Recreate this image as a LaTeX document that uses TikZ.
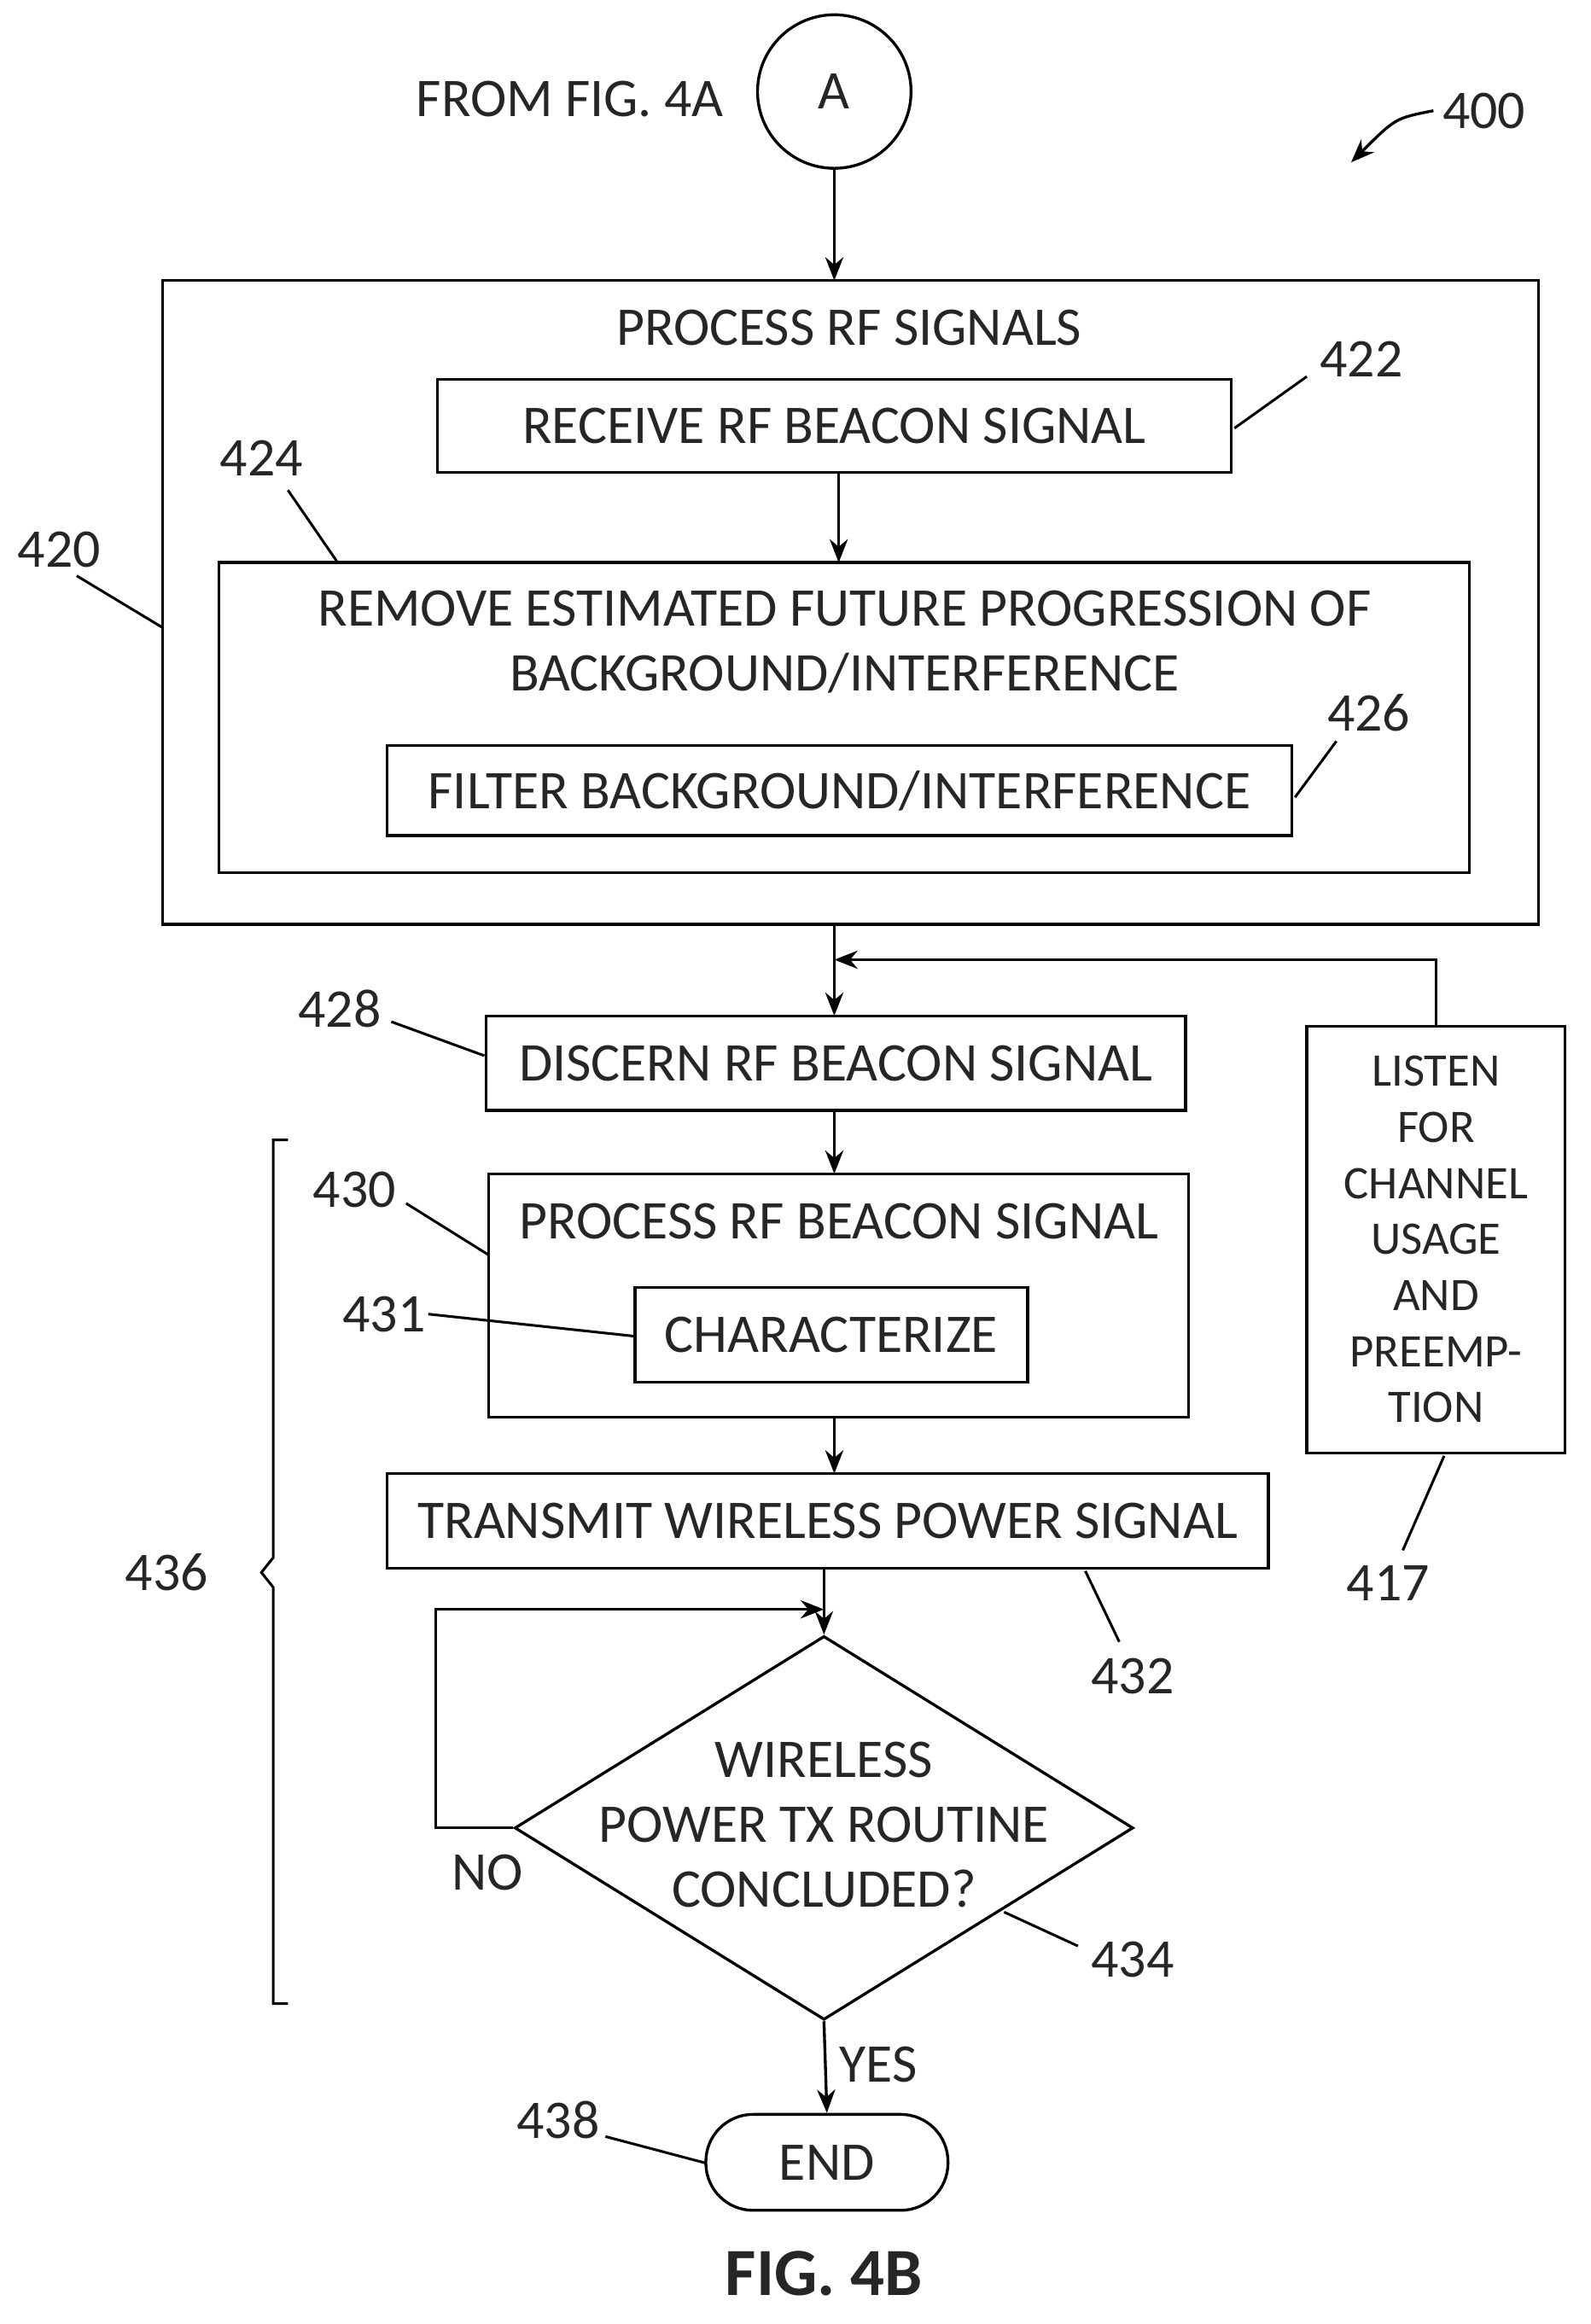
\documentclass[tikz,border=0pt]{standalone}
\usepackage{fontspec}
\setmainfont{Carlito}
\usetikzlibrary{shapes.geometric,arrows.meta}
\begin{document}
\begin{tikzpicture}[x=0.02cm,y=-0.02cm,
  every node/.style={font=\fontsize{21}{22}\selectfont, text=black!85},
  box/.style={draw, line width=1.1pt, inner sep=0pt},
  arr/.style={line width=1.1pt,-{Stealth[length=9pt,width=7pt]}},
  ld/.style={line width=1pt},
  lbl/.style={font=\fontsize{21}{22}\selectfont}]
\useasboundingbox (0,0) rectangle (1077,1574);
% start
\node[draw, circle, line width=1.1pt, minimum size=2.08cm] (A) at (565,62) {A};
\node (from) at (386,67) {FROM FIG. 4A};
\node[lbl] (l400) at (1005,75) {400};
\coordinate (c400) at (915,110);
\draw[line width=1.1pt,-{Stealth[length=9pt,width=7pt]}] (l400.west) .. controls (945,80) .. (c400);
% 420
\node[box, minimum width=18.64cm, minimum height=8.72cm] (b420) at (576,408) {};
\node (t420) at (575,222) {PROCESS RF SIGNALS};
\node[box, minimum width=10.76cm, minimum height=1.26cm] (b422) at (565,288.5) {RECEIVE RF BEACON SIGNAL};
\node[box, minimum width=16.94cm, minimum height=4.2cm] (b424) at (571.5,486) {};
\node[align=center] (t424) at (572,435) {REMOVE ESTIMATED FUTURE PROGRESSION OF\\[3pt]BACKGROUND/INTERFERENCE};
\node[box, minimum width=12.26cm, minimum height=1.22cm] (b426) at (568.5,535.5) {FILTER BACKGROUND/INTERFERENCE};
\node[lbl] (l420) at (40,372) {420};
\node[lbl] (l422) at (922,243) {422};
\node[lbl] (l424) at (177,310) {424};
\node[lbl] (l426) at (927,483) {426};
\draw[ld] (52,390) -- (110,425);
\draw[ld] (885,255) -- (836,290);
\draw[ld] (195,332) -- (228,380);
\draw[ld] (905,502) -- (877,540);
\draw[arr] (A.south) -- (565,190);
\draw[arr] (b422.south -| 568,0) -- (568,381);
% 428
\node[box, minimum width=9.48cm, minimum height=1.28cm] (b428) at (566,720) {DISCERN RF BEACON SIGNAL};
\draw[arr] (565,626) -- (565,688);
\node[box, minimum width=3.5cm, minimum height=5.78cm, align=center, font=\fontsize{18}{21.6}\selectfont] (b417) at (972.5,839.5) {LISTEN\\FOR\\CHANNEL\\USAGE\\AND\\PREEMP-\\TION};
\coordinate (j) at (565,650);
\draw[arr] (b417.north) -- (972.5,650) -- (j);
\node[lbl] (l417) at (940,1072) {417};
\draw[ld] (950,1050) -- (978,986);
\node[lbl] (l428) at (230,683) {428};
\draw[ld] (265,692) -- (328,715);
% 430
\node[box, minimum width=9.48cm, minimum height=3.3cm] (b430) at (568,877.5) {};
\node (t430) at (568,827) {PROCESS RF BEACON SIGNAL};
\node[box, minimum width=5.32cm, minimum height=1.28cm] (b431) at (563,904) {CHARACTERIZE};
\node[lbl] (l430) at (240,806) {430};
\node[lbl] (l431) at (260,890) {431};
\draw[ld] (275,815) -- (331,850);
\draw[ld] (290,890) -- (430,905);
\draw[arr] (565,752) -- (565,795);
\draw[arr] (565,960) -- (565,998);
% 432
\node[box, minimum width=11.94cm, minimum height=1.28cm] (b432) at (560.5,1030) {TRANSMIT WIRELESS POWER SIGNAL};
\node[lbl] (l432) at (767,1135) {432};
\draw[ld] (758,1112) -- (735,1064);
% diamond
\node[draw, diamond, line width=1.1pt, inner sep=0pt, aspect=1.61, minimum width=8.38cm, minimum height=5.2cm] (d434) at (558,1238) {};
\node[align=center] (t434) at (558,1236) {WIRELESS\\[3pt]POWER TX ROUTINE\\[3pt]CONCLUDED?};
\draw[arr] (558,1062) -- (d434.north);
\coordinate (lp) at (295,1238);
\draw[arr] (d434.west) -- (lp) -- (295,1090) -- (558,1090);
\node (no) at (330,1268) {NO};
\node[lbl] (l434) at (767,1327) {434};
\draw[ld] (730,1318) -- (680,1295);
% end
\node[draw, line width=1.1pt, rounded corners=0.64cm, minimum width=3.28cm, minimum height=1.3cm] (end) at (560,1464.5) {END};
\draw[arr] (d434.south) -- (end.north);
\node (yes) at (595,1398) {YES};
\node[lbl] (l438) at (378,1436) {438};
\draw[ld] (410,1447) -- (478,1465);
% brace
\draw[ld] (195,772) -- (185,772) -- (185,1055) -- (177,1065) -- (185,1075) -- (185,1357) -- (195,1357);
\node[lbl] (l436) at (113,1065) {436};
\node[font=\bfseries\fontsize{26}{30}\selectfont] (fig) at (558,1540) {FIG. 4B};
\end{tikzpicture}
\end{document}
